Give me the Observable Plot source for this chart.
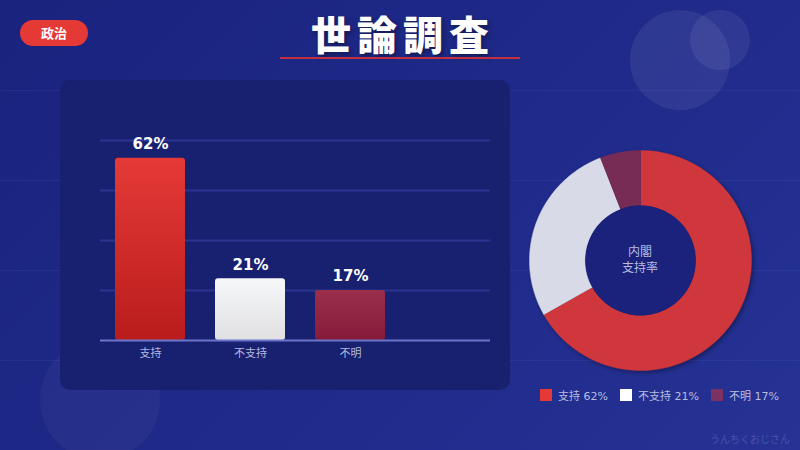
<!DOCTYPE html>
<html><head><meta charset="utf-8">
<script src="https://cdn.jsdelivr.net/npm/d3@7"></script>
<script src="https://cdn.jsdelivr.net/npm/@observablehq/plot@0.6"></script>
<style>
html,body{margin:0;padding:0;}
body{width:800px;height:450px;overflow:hidden;position:relative;font-family:"Noto Sans CJK JP","Noto Sans",sans-serif;
 background:linear-gradient(135deg,#1a237e 0%,#1f2a8a 55%,#263394 100%);}
.hline{position:absolute;left:0;width:800px;height:1px;background:rgba(120,140,230,0.10);}
.circle{position:absolute;border-radius:50%;background:rgba(255,255,255,0.07);}
#badge{position:absolute;left:20px;top:20px;width:68px;height:26px;border-radius:13px;background:#e53935;color:#fff;font-weight:bold;font-size:13px;line-height:26px;text-align:center;}
#title{position:absolute;left:200px;top:4px;width:400px;text-align:center;color:#fff;font-weight:900;font-size:40px;letter-spacing:6px;text-indent:6px;text-shadow:2px 3px 4px rgba(0,0,0,0.35);line-height:58px;}
#uline{position:absolute;left:280px;top:57px;width:240px;height:2px;background:#c0303f;}
#panel{position:absolute;left:60px;top:80px;width:450px;height:310px;border-radius:10px;background:#182070;}
#bars{position:absolute;left:60px;top:80px;}
#donut{position:absolute;left:518px;top:139px;filter:drop-shadow(2px 2px 2px rgba(0,0,0,0.35));}
#center{position:absolute;left:590px;top:243px;width:100px;text-align:center;color:#b8bce0;font-size:12px;line-height:16px;}
#legend{position:absolute;left:540px;top:387px;display:flex;gap:12px;color:#b8bce0;font-size:11px;font-family:"DejaVu Sans","Noto Sans CJK JP",sans-serif;}
#legend span.sw{display:inline-block;width:12px;height:12px;margin-right:6px;vertical-align:-1px;}
#wm{position:absolute;right:10px;top:431px;color:#4953a6;font-size:10px;}
</style></head>
<body>
<div class="hline" style="top:90px"></div>
<div class="hline" style="top:180px"></div>
<div class="hline" style="top:270px"></div>
<div class="hline" style="top:360px"></div>
<div class="circle" style="left:630px;top:10px;width:100px;height:100px"></div>
<div class="circle" style="left:690px;top:10px;width:60px;height:60px"></div>
<div class="circle" style="left:40px;top:340px;width:120px;height:120px;background:rgba(255,255,255,0.04)"></div>
<div id="badge">政治</div>
<div id="title">世論調査</div>
<div id="uline"></div>
<div id="panel"></div>
<svg width="0" height="0" style="position:absolute">
 <defs>
  <linearGradient id="gRed" x1="0" y1="0" x2="0" y2="1"><stop offset="0" stop-color="#e53a37"/><stop offset="1" stop-color="#b91c1c"/></linearGradient>
  <linearGradient id="gWhite" x1="0" y1="0" x2="0" y2="1"><stop offset="0" stop-color="#f6f7f9"/><stop offset="1" stop-color="#e0e0e2"/></linearGradient>
  <linearGradient id="gPurple" x1="0" y1="0" x2="0" y2="1"><stop offset="0" stop-color="#9a2f4c"/><stop offset="1" stop-color="#851b3a"/></linearGradient>
 </defs>
</svg>
<div id="bars"></div>
<div id="donut"></div>
<div id="center">内閣<br>支持率</div>
<div id="legend"></div>
<div id="wm">うんちくおじさん</div>
<script>
// Data
const categories = ["支持", "不支持", "不明"];
const percents = [62, 21, 17];
const barFills = ["url(#gRed)", "url(#gWhite)", "url(#gPurple)"];
const legendColors = ["#e53935", "#ffffff", "#7b3263"];
// donut slice shares as drawn in the reference picture
const donutShares = [66.8, 27.3, 5.9];
const donutColors = ["#d0373c", "#d8dae8", "#772c55"];

const rows = categories.map((c, i) => ({cat: c, v: percents[i], fill: barFills[i]}));
const yMax = 68;
const gridTicks = [1, 2, 3, 4].map(i => i * yMax / 4);

const barMarks = rows.map(r => Plot.barY([r], {x: "cat", y: "v", fill: r.fill, rx: 3}));
const bars = Plot.plot({
  width: 450, height: 310,
  marginTop: 60, marginBottom: 50, marginLeft: 40, marginRight: 20,
  style: {background: "transparent", fontFamily: "'Noto Sans CJK JP', sans-serif", overflow: "visible"},
  x: {domain: categories, range: [40, 340], paddingInner: 0.3, paddingOuter: 0.15, label: null},
  y: {domain: [0, yMax], axis: null},
  marks: [
    Plot.gridY(gridTicks, {stroke: "#2b3590", strokeOpacity: 1, strokeWidth: 2}),
    ...barMarks,
    Plot.ruleY([0], {stroke: "#6c75c9", strokeWidth: 2}),
    Plot.text(rows, {x: "cat", y: "v", text: d => d.v + "%", dy: -14, fill: "#ffffff", fontWeight: "bold", fontSize: 15, fontFamily: "'DejaVu Sans', sans-serif"}),
    Plot.axisX({tickSize: 0, tickPadding: 9, fontSize: 11, color: "#b4b9df", label: null})
  ]
});
document.getElementById("bars").appendChild(bars);

// Donut polygons from pie angles
const pie = d3.pie().sort(null).value(d => d)(donutShares);
const R = 1, r0 = 0.5;
const pts = [];
pie.forEach((p, i) => {
  const n = 80;
  for (let k = 0; k <= n; k++) { const a = p.startAngle + (p.endAngle - p.startAngle) * k / n; pts.push({s: i, x: R * Math.sin(a), y: R * Math.cos(a)}); }
  for (let k = n; k >= 0; k--) { const a = p.startAngle + (p.endAngle - p.startAngle) * k / n; pts.push({s: i, x: r0 * Math.sin(a), y: r0 * Math.cos(a)}); }
});
const donut = Plot.plot({
  width: 244, height: 242, margin: 11,
  style: {background: "transparent", overflow: "visible"},
  x: {domain: [-1, 1], axis: null},
  y: {domain: [-1, 1], axis: null},
  color: {domain: [0, 1, 2], range: donutColors, type: "ordinal"},
  marks: [
    Plot.line(pts, {x: "x", y: "y", z: "s", fill: "s", stroke: "s", strokeWidth: 0.5, curve: "linear"}),
    Plot.dot([{x: 0, y: 0}], {x: "x", y: "y", r: 55, fill: "#1a227c"})
  ]
});
document.getElementById("donut").appendChild(donut);

const legend = document.getElementById("legend");
categories.forEach((c, i) => {
  const d = document.createElement("div");
  d.innerHTML = `<span class="sw" style="background:${legendColors[i]}"></span>${c} ${percents[i]}%`;
  legend.appendChild(d);
});
</script>
</body></html>
